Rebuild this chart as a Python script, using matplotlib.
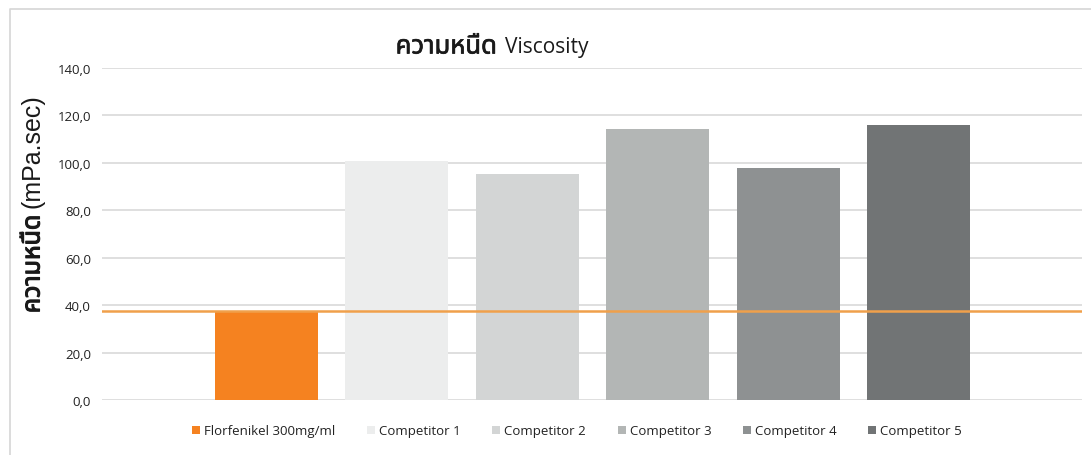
import matplotlib
matplotlib.use("Agg")
import matplotlib.pyplot as plt
import matplotlib.patheffects as pe
from matplotlib.lines import Line2D
from matplotlib.patches import Patch

# ---- data ----
series_names = ["Florfenikel 300mg/ml", "Competitor 1", "Competitor 2",
                "Competitor 3", "Competitor 4", "Competitor 5"]
viscosity = [37.5, 100.8, 95.3, 114.3, 97.8, 116.0]
bar_colors = ["#F58220", "#ECEDED", "#D3D5D5", "#B3B6B5", "#8E9192", "#717475"]
reference_level = 37.5
y_ticks = [0, 20, 40, 60, 80, 100, 120, 140]
y_tick_labels = ["0,0", "20,0", "40,0", "60,0", "80,0", "100,0", "120,0", "140,0"]
title_thai = "ความหนืด"
title_en = "Viscosity"
ylabel_thai = "ความหนืด"
ylabel_en = "(mPa.sec)"

W, H = 1091, 456
fig = plt.figure(figsize=(W / 100, H / 100), dpi=100)

# axes area in pixels: x 102..1082, y(0)=401, y(140)=69
ax = fig.add_axes([102 / W, 1 - 401 / H, (1082 - 102) / W, (401 - 69) / H])

xs = list(range(len(viscosity)))
ax.bar(xs, viscosity, width=0.79, color=bar_colors, zorder=3)
ax.axhline(reference_level, color="#F0A04B", lw=1.8, zorder=4)

ax.set_xlim(-1.26, 6.25)
ax.set_ylim(0, 140)
ax.set_yticks(y_ticks)
ax.set_yticklabels(y_tick_labels, fontsize=9.5, color="#222222",
                   family=["Open Sans", "DejaVu Sans"])
ax.set_xticks([])
ax.tick_params(axis="y", length=0, pad=8)
ax.yaxis.grid(True, color="#D9D9D9", lw=1.2, zorder=0)
ax.set_axisbelow(True)
for s in ax.spines.values():
    s.set_visible(False)

semibold = [pe.withStroke(linewidth=0.5, foreground="#1a1a1a")]

# title (Thai part heavier, English part regular)
fig.text(497 / W, 1 - 48 / H, title_thai, ha="right", va="center",
         fontsize=18.5, color="#1a1a1a", path_effects=semibold,
         family=["Noto Sans Thai", "DejaVu Sans"])
fig.text(505 / W, 1 - 47 / H, title_en, ha="left", va="center",
         fontsize=15, color="#1a1a1a",
         family=["Open Sans", "DejaVu Sans"])

# y label (Thai part heavier at the bottom, English part regular above)
fig.text(33 / W, 1 - 216 / H, ylabel_thai, ha="center", va="top",
         rotation=90, fontsize=18, color="#1a1a1a",
         path_effects=[pe.withStroke(linewidth=0.8, foreground="#1a1a1a")],
         family=["Noto Sans Thai", "Liberation Sans"])
fig.text(33 / W, 1 - 208 / H, ylabel_en, ha="center", va="bottom",
         rotation=90, fontsize=18, color="#1a1a1a",
         family=["Liberation Sans", "DejaVu Sans"])

# legend
handles = [Patch(facecolor=c, edgecolor="none") for c in bar_colors]
leg = fig.legend(handles, series_names, loc="center", ncol=6,
                 bbox_to_anchor=(577 / W, 1 - 432 / H), frameon=False,
                 handlelength=0.6, handleheight=0.6,
                 handletextpad=0.3, columnspacing=2.4,
                 prop={"family": ["Open Sans", "DejaVu Sans"], "size": 9.5})
for t in leg.get_texts():
    t.set_color("#222222")

# outer chart border (top and left)
fig.add_artist(Line2D([9.5 / W, 9.5 / W, 1.0], [0.0, 1 - 10 / H, 1 - 10 / H],
                      transform=fig.transFigure, color="#D6D6D6", lw=1.2))

fig.savefig("out.png", dpi=100)
